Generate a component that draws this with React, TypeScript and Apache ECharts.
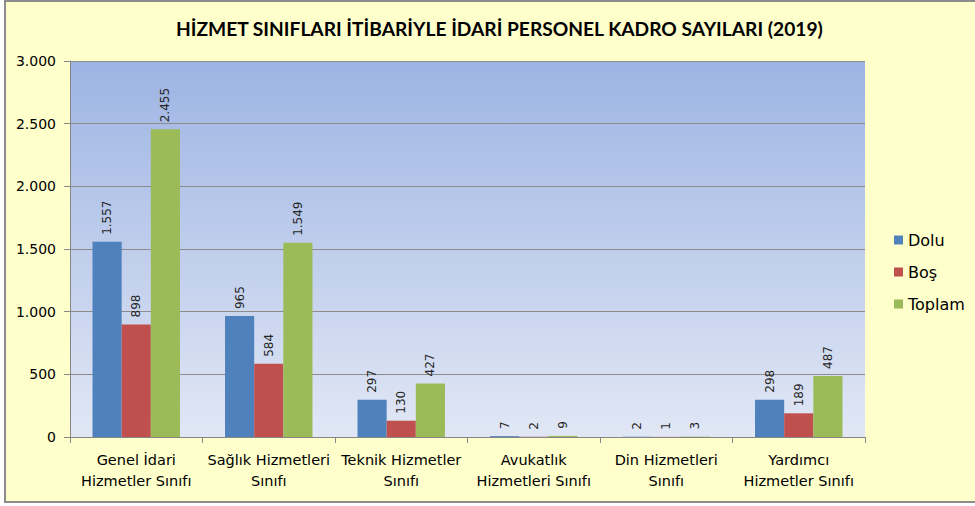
import React, { useEffect, useRef } from "react";
import * as echarts from "echarts";

const categories = [
  "Genel İdari\nHizmetler Sınıfı",
  "Sağlık Hizmetleri\nSınıfı",
  "Teknik Hizmetler\nSınıfı",
  "Avukatlık\nHizmetleri Sınıfı",
  "Din Hizmetleri\nSınıfı",
  "Yardımcı\nHizmetler Sınıfı",
];
const dolu = [1557, 965, 297, 7, 2, 298];
const bos = [898, 584, 130, 2, 1, 189];
const toplam = [2455, 1549, 427, 9, 3, 487];
const seriesNames = ["Dolu", "Boş", "Toplam"];
const colors = ["#4F81BD", "#C0504D", "#9BBB59"];
const titleText = "HİZMET SINIFLARI İTİBARİYLE İDARİ PERSONEL KADRO SAYILARI (2019)";

const fmt = (v: number) => String(v).replace(/\B(?=(\d{3})+(?!\d))/g, ".");

export default function App() {
  const ref = useRef<HTMLDivElement>(null);
  useEffect(() => {
    document.body.style.margin = "0";
    const chart = echarts.init(ref.current!, null, { renderer: "svg" });
    const data = [dolu, bos, toplam];
    chart.setOption({
      animation: false,
      backgroundColor: "#FFFFFF",
      graphic: [
        {
          type: "rect",
          shape: { x: 5, y: 1, width: 975, height: 501 },
          style: { fill: "#FFFFCC", stroke: "#8C8C8C", lineWidth: 2 },
          z: -10,
        },
      ],
      title: {
        text: titleText,
        left: 171,
        top: 14,
        textStyle: {
          fontFamily: "Lato",
          fontWeight: "bold",
          fontSize: 19.2,
          color: "#000",
        },
      },
      legend: {
        orient: "vertical",
        left: 889,
        top: 227,
        itemWidth: 9,
        itemHeight: 9,
        itemGap: 16,
        icon: "rect",
        textStyle: { fontFamily: "DejaVu Sans", fontSize: 16, color: "#000" },
        data: seriesNames,
      },
      grid: {
        left: 70,
        right: 110,
        top: 61,
        bottom: 69,
        show: true,
        borderWidth: 0,
        backgroundColor: {
          type: "linear",
          x: 0,
          y: 0,
          x2: 0,
          y2: 1,
          colorStops: [
            { offset: 0, color: "#9DB4E3" },
            { offset: 1, color: "#E1E7F5" },
          ],
        },
      },
      xAxis: {
        type: "category",
        data: categories,
        axisLine: { lineStyle: { color: "#868686", width: 1 } },
        axisTick: { show: true, length: 6, lineStyle: { color: "#868686" } },
        axisLabel: {
          interval: 0,
          fontFamily: "DejaVu Sans",
          fontSize: 14.5,
          color: "#000",
          lineHeight: 21,
          margin: 12,
        },
      },
      yAxis: {
        type: "value",
        min: 0,
        max: 3000,
        interval: 500,
        axisLine: { show: true, lineStyle: { color: "#868686" } },
        axisTick: { show: true, length: 6, lineStyle: { color: "#868686" } },
        splitLine: { lineStyle: { color: "#8C8C8C", width: 1 } },
        axisLabel: {
          fontFamily: "DejaVu Sans",
          fontSize: 14,
          color: "#000",
          margin: 14,
          formatter: (v: number) => fmt(v),
        },
      },
      series: seriesNames.map((name, i) => ({
        name,
        type: "bar",
        data: data[i],
        barGap: "0%",
        barCategoryGap: "34%",
        itemStyle: { color: colors[i] },
        label: {
          show: true,
          position: "top",
          rotate: 90,
          align: "left",
          verticalAlign: "middle",
          distance: 7,
          fontFamily: "DejaVu Sans",
          fontSize: 12,
          color: "#262626",
          formatter: (p: any) => fmt(p.value),
        },
      })),
    });
    return () => chart.dispose();
  }, []);
  return <div ref={ref} style={{ width: 975, height: 506 }} />;
}
